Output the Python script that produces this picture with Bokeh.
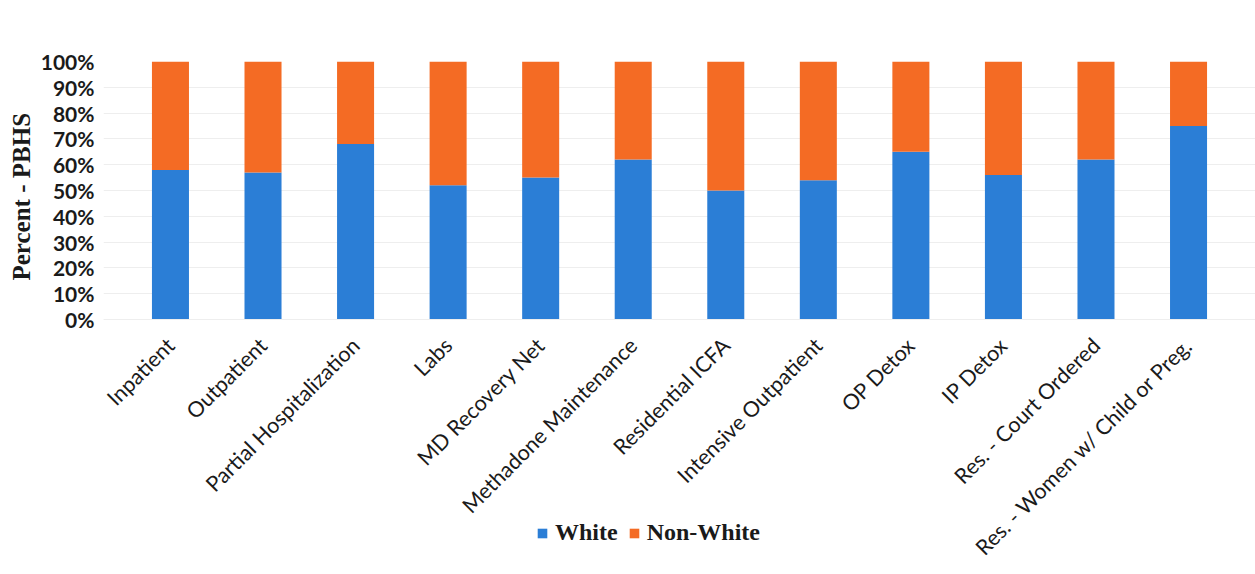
import math
from bokeh.plotting import figure
from bokeh.models import (ColumnDataSource, Legend, LegendItem, FixedTicker,
                          CustomJSTickFormatter, Title, FactorRange)
from bokeh.embed import file_html
from bokeh.resources import INLINE

categories = ["Inpatient", "Outpatient", "Partial Hospitalization", "Labs", "MD Recovery Net",
              "Methadone Maintenance", "Residential ICFA", "Intensive Outpatient", "OP Detox",
              "IP Detox", "Res. - Court Ordered", "Res. - Women w/ Child or Preg."]
white = [58, 57, 68, 52, 55, 62, 50, 54, 65, 56, 62, 75]
non_white = [100 - w for w in white]
series = ["White", "Non-White"]
colors = ["#2B7ED6", "#F46B24"]
y_ticks = list(range(0, 101, 10))

src = ColumnDataSource(dict(cat=categories, White=white, **{"Non-White": non_white}))

# the frame reaches the bottom of the page, so that the rotated category labels
# and the legend are drawn inside the plot area (x axis fixed at 0%)
xr = FactorRange(factors=categories, range_padding=0.2235, range_padding_units="absolute")
p = figure(x_range=xr, y_range=(-98.8, 100), frame_width=1152, frame_height=513,
           min_border_left=103, min_border_top=61, min_border_right=0, min_border_bottom=0,
           output_backend="svg", toolbar_location=None, outline_line_color=None)

rs = p.vbar_stack(series, x="cat", width=0.4, color=colors, source=src, line_color=None)

p.yaxis.ticker = FixedTicker(ticks=y_ticks)
p.yaxis.formatter = CustomJSTickFormatter(code="return tick + '%';")
p.yaxis.major_label_text_font = "Lato"
p.yaxis.major_label_text_font_style = "bold"
p.yaxis.major_label_text_font_size = "21px"
p.yaxis.major_label_text_color = "#1a1a1a"
p.yaxis.axis_line_color = None
p.yaxis.major_tick_line_color = None
p.yaxis.minor_tick_line_color = None
p.yaxis.major_label_standoff = 3

ytitle = Title(text="Percent - PBHS", align="left", offset=294,
               text_font="Liberation Serif", text_font_style="bold",
               text_font_size="25px", text_color="#1a1a1a", standoff=6)
p.add_layout(ytitle, "left")

p.xaxis.fixed_location = 0
p.xaxis.major_label_orientation = math.pi / 4
p.xaxis.major_label_text_font = "Lato"
p.xaxis.major_label_text_font_size = "21.5px"
p.xaxis.major_label_text_color = "#1a1a1a"
p.xaxis.axis_line_color = "#eeeeee"
p.xaxis.major_tick_line_color = None
p.xaxis.minor_tick_line_color = None
p.xaxis.major_label_standoff = 16

p.xgrid.grid_line_color = None
p.ygrid.grid_line_color = "#eeeeee"
p.ygrid.ticker = FixedTicker(ticks=y_ticks)

legend = Legend(items=[LegendItem(label=s, renderers=[r]) for s, r in zip(series, rs)],
                orientation="horizontal", location=(433, 28),
                label_text_font="Liberation Serif", label_text_font_style="bold",
                label_text_font_size="24px", label_text_color="#1a1a1a",
                glyph_width=12, glyph_height=12, label_standoff=7, spacing=10,
                border_line_color=None, background_fill_alpha=0, padding=2, margin=0)
p.add_layout(legend, "center")

open("out.html", "w").write(file_html(p, INLINE))
